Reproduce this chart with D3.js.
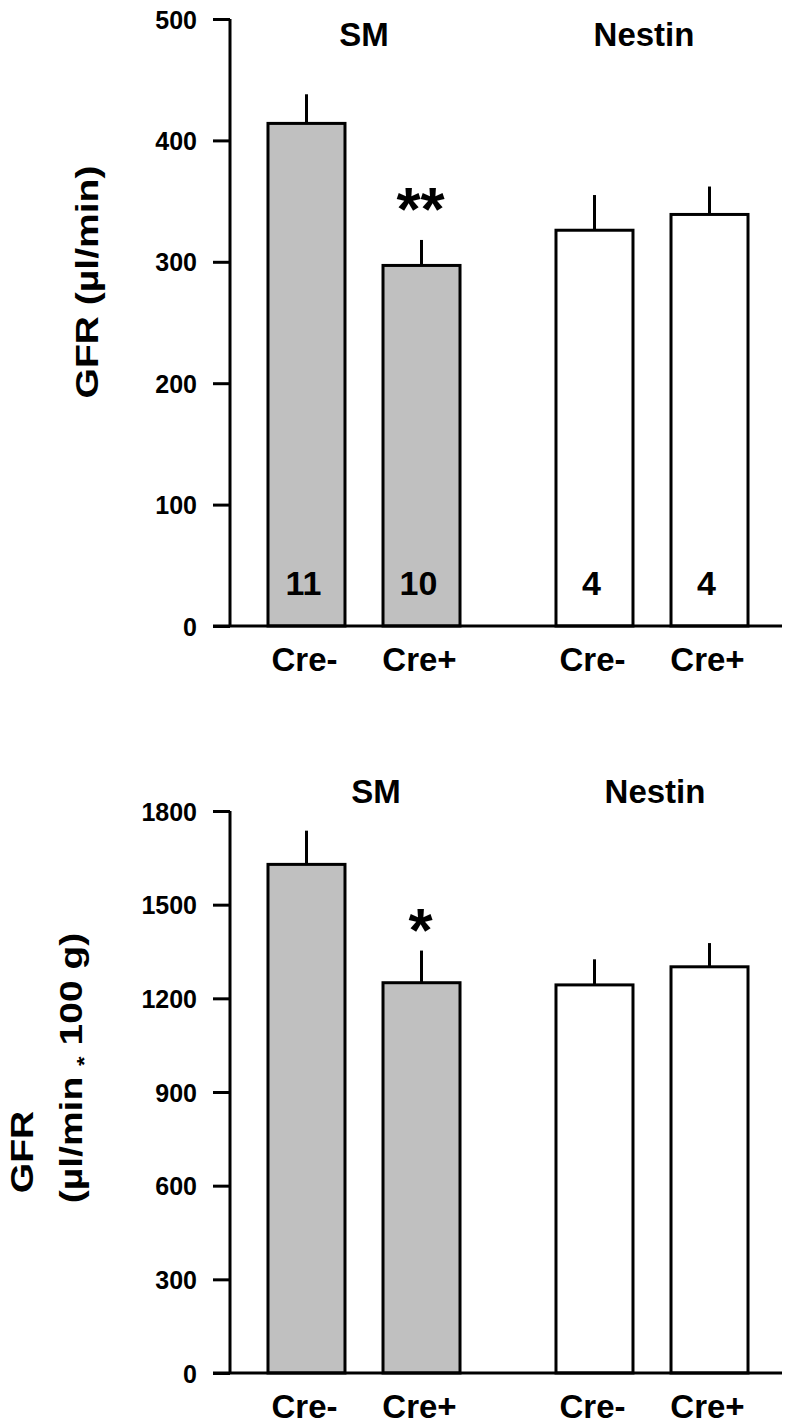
<!DOCTYPE html>
<html>
<head>
<meta charset="utf-8">
<script src="https://cdn.jsdelivr.net/npm/d3@7"></script>
<style>
  html, body { margin: 0; padding: 0; background: #fff; }
  svg text { font-family: "Liberation Sans", Arial, sans-serif; font-weight: bold; fill: #000; }
</style>
</head>
<body>
<svg id="chart" width="792" height="1424"></svg>
<script>
// ---- data ----
const groups = ["SM", "Nestin"];
const genotypes = ["Cre-", "Cre+"];
const gfrMean = [414, 297, 326, 339];          // µl/min
const gfrSE = [24, 21, 29, 23];
const gfrNormMean = [1629, 1250, 1243, 1301];  // µl/min * 100 g
const gfrNormSE = [108, 103, 82, 76];
const nLabels = ["11", "10", "4", "4"];
const barGroup = ["SM", "SM", "Nestin", "Nestin"];
const barGeno = ["Cre-", "Cre+", "Cre-", "Cre+"];
const ticksTop = [0, 100, 200, 300, 400, 500];
const ticksBottom = [0, 300, 600, 900, 1200, 1500, 1800];
const sigTop = {bar: 1, text: "**", y: 353};
const sigBottom = {bar: 1, text: "*", y: 1456};

const svg = d3.select("#chart");
const fills = {SM: "#c0c0c0", Nestin: "#ffffff"};

// shared x scales
const xGroup = d3.scaleBand().domain(groups).range([220, 796]);
const xInner = d3.scalePoint().domain(genotypes).range([0, xGroup.bandwidth()]).padding(0.752);
const barW = 77;
const cx = i => xGroup(barGroup[i]) + xInner(barGeno[i]);

function panel(opt) {
  const y = d3.scaleLinear().domain([0, opt.max]).range([opt.y0, opt.y1]);
  const g = svg.append("g");
  const axisX = 230;

  g.selectAll("rect.bar").data(opt.mean).join("rect")
    .attr("x", (d, i) => cx(i) - barW / 2)
    .attr("y", d => y(d))
    .attr("width", barW)
    .attr("height", d => y(0) - y(d))
    .attr("fill", (d, i) => fills[barGroup[i]])
    .attr("stroke", "#000").attr("stroke-width", 3);

  g.selectAll("line.err").data(opt.mean).join("line")
    .attr("x1", (d, i) => cx(i)).attr("x2", (d, i) => cx(i))
    .attr("y1", d => y(d)).attr("y2", (d, i) => y(d + opt.se[i]))
    .attr("stroke", "#000").attr("stroke-width", 3);

  const ax = d3.axisLeft(y).tickValues(opt.ticks).tickSize(17).tickPadding(16).tickFormat(d3.format("d"));
  const ag = g.append("g").attr("transform", `translate(${axisX},0)`).call(ax);
  ag.select(".domain").attr("d", `M0,${y(opt.max)}V${y(0)}`).attr("stroke-width", 3);
  ag.selectAll(".tick line").attr("stroke-width", 3);
  ag.selectAll(".tick text").style("font-size", "25px").style("font-family", "'Liberation Sans', Arial, sans-serif")
    .style("font-weight", "bold").attr("dy", "0.36em").attr("x", -33);

  g.append("line").attr("x1", 213).attr("x2", 782)
    .attr("y1", y(0)).attr("y2", y(0)).attr("stroke", "#000").attr("stroke-width", 3);

  g.selectAll("text.cat").data(barGeno).join("text")
    .attr("x", (d, i) => cx(i) - 2).attr("y", opt.catY)
    .attr("text-anchor", "middle").style("font-size", "33px").text(d => d);

  groups.forEach((gr, k) => {
    g.append("text").attr("x", opt.titleX[k]).attr("y", opt.titleY)
      .attr("text-anchor", "middle").style("font-size", "33px").text(gr);
  });

  const fs = 62;
  g.append("text").attr("x", cx(opt.sig.bar) - 1).attr("y", y(opt.sig.y) + 0.52 * fs)
    .attr("text-anchor", "middle").style("font-size", fs + "px").text(opt.sig.text);

  return {g, y};
}

const topPanel = panel({max: 500, y0: 626, y1: 19, mean: gfrMean, se: gfrSE, ticks: ticksTop,
  catY: 671, titleX: [364, 644], titleY: 46, sig: sigTop});

topPanel.g.selectAll("text.n").data(nLabels).join("text")
  .attr("x", (d, i) => cx(i) - 3).attr("y", 595)
  .attr("text-anchor", "middle").style("font-size", "34px").text(d => d);

topPanel.g.append("text")
  .attr("transform", "translate(98,282) rotate(-90) scale(1.22,1)")
  .attr("text-anchor", "middle").style("font-size", "32px").text("GFR (µl/min)");

const botPanel = panel({max: 1800, y0: 1373, y1: 811, mean: gfrNormMean, se: gfrNormSE, ticks: ticksBottom,
  catY: 1418, titleX: [376, 655], titleY: 803, sig: sigBottom});

botPanel.g.append("text")
  .attr("transform", "translate(33,1152) rotate(-90) scale(1.22,1)")
  .attr("text-anchor", "middle").style("font-size", "32px").text("GFR");

const l2 = botPanel.g.append("text")
  .attr("transform", "translate(82,1068) rotate(-90) scale(1.22,1)")
  .attr("text-anchor", "middle").style("font-size", "32px");
l2.append("tspan").text("(µl/min ");
l2.append("tspan").style("font-size", "20px").attr("dy", 9).text("*");
l2.append("tspan").attr("dy", -9).text(" 100 g)");
</script>
</body>
</html>
